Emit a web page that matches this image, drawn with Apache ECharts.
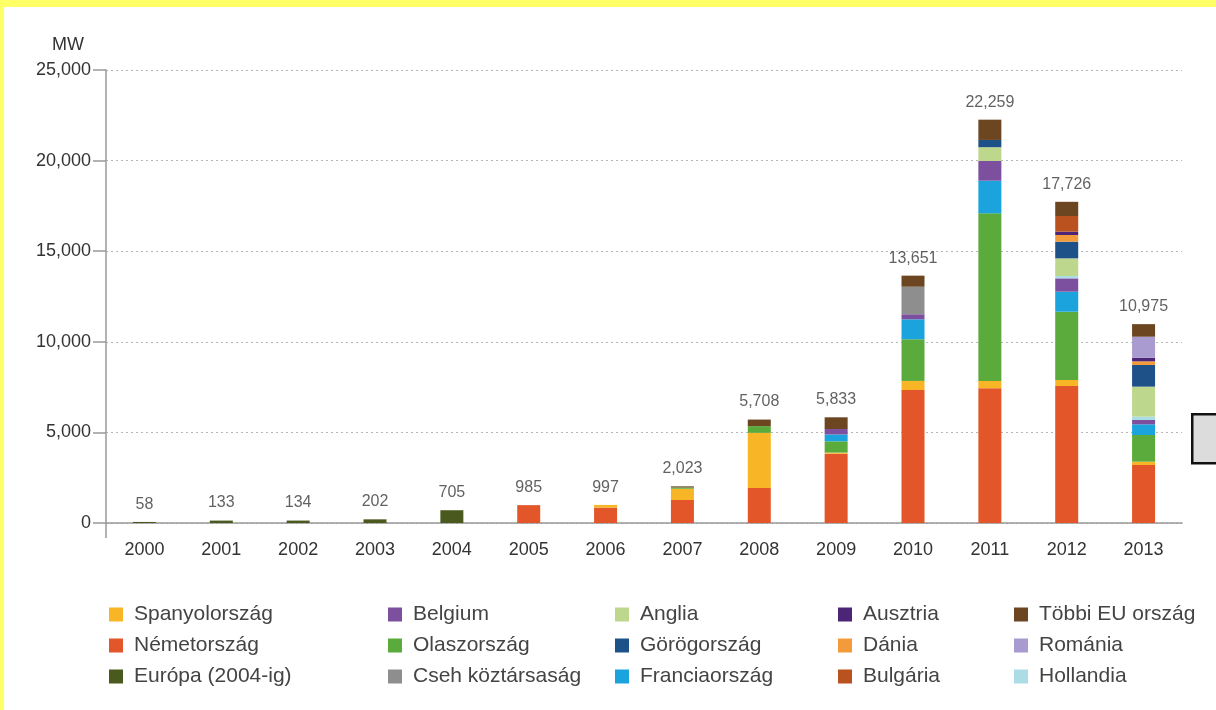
<!DOCTYPE html>
<html>
<head>
<meta charset="utf-8">
<script src="https://cdn.jsdelivr.net/npm/echarts@6/dist/echarts.min.js"></script>
<style>
  html, body { margin: 0; padding: 0; background: #ffffff; }
  #chart { position: absolute; left: 0; top: 0; width: 1216px; height: 710px; background: #ffffff; }
  .frame-top { position: absolute; left: 0; top: 0; width: 1216px; height: 7px; background: #ffff66; z-index: 5; }
  .frame-left { position: absolute; left: 0; top: 0; width: 4px; height: 710px; background: #ffff66; z-index: 5; }
</style>
</head>
<body>
<div id="chart"></div>
<div class="frame-top"></div>
<div class="frame-left"></div>
<script>
// Years on the category axis
const years = ['2000','2001','2002','2003','2004','2005','2006','2007','2008','2009','2010','2011','2012','2013'];

// Newly installed capacity per country (MW), in stacking order from the bottom
const nemetorszag    = [0, 0, 0, 0, 0, 985, 850, 1270, 1935, 3826, 7340, 7440, 7560, 3200];
const spanyolorszag  = [0, 0, 0, 0, 0, 0, 147, 620, 3040, 60, 500, 400, 331, 184];
const olaszorszag    = [0, 0, 0, 0, 0, 0, 0, 70, 370, 620, 2300, 9250, 3770, 1472];
const franciaorszag  = [0, 0, 0, 0, 0, 0, 0, 0, 0, 380, 1100, 1800, 1104, 589];
const belgium        = [0, 0, 0, 0, 0, 0, 0, 0, 0, 300, 280, 1090, 736, 240];
const hollandia      = [0, 0, 0, 0, 0, 0, 0, 0, 0, 0, 0, 0, 130, 184];
const cseh           = [0, 0, 0, 0, 0, 0, 0, 0, 0, 0, 1520, 0, 0, 0];
const anglia         = [0, 0, 0, 0, 0, 0, 0, 0, 0, 0, 0, 760, 974, 1656];
const gorogorszag    = [0, 0, 0, 0, 0, 0, 0, 0, 0, 0, 0, 400, 920, 1196];
const dania          = [0, 0, 0, 0, 0, 0, 0, 0, 0, 0, 0, 0, 368, 200];
const ausztria       = [0, 0, 0, 0, 0, 0, 0, 0, 0, 0, 0, 0, 184, 200];
const bulgaria       = [0, 0, 0, 0, 0, 0, 0, 0, 0, 0, 0, 0, 865, 0];
const romania        = [0, 0, 0, 0, 0, 0, 0, 0, 0, 0, 0, 0, 0, 1160];
const tobbiEU        = [0, 0, 0, 0, 0, 0, 0, 63, 363, 647, 611, 1119, 784, 694];
const europa         = [58, 133, 134, 202, 705, 0, 0, 0, 0, 0, 0, 0, 0, 0];

// Y-axis range
const yMin = 0, yMax = 25000, yStep = 5000;

const stackSeries = [
  { name: 'Németország',        data: nemetorszag,   color: '#e2562a' },
  { name: 'Spanyolország',      data: spanyolorszag, color: '#f8b526' },
  { name: 'Olaszország',        data: olaszorszag,   color: '#5aab3c' },
  { name: 'Franciaország',      data: franciaorszag, color: '#1aa3dc' },
  { name: 'Belgium',            data: belgium,       color: '#7d4f9f' },
  { name: 'Hollandia',          data: hollandia,     color: '#acdce6' },
  { name: 'Cseh köztársaság',   data: cseh,          color: '#8e8e8e' },
  { name: 'Anglia',             data: anglia,        color: '#bdd78c' },
  { name: 'Görögország',        data: gorogorszag,   color: '#1f5189' },
  { name: 'Dánia',              data: dania,         color: '#f39b3a' },
  { name: 'Ausztria',           data: ausztria,      color: '#4d2577' },
  { name: 'Bulgária',           data: bulgaria,      color: '#b9521f' },
  { name: 'Románia',            data: romania,       color: '#a99bd0' },
  { name: 'Többi EU ország',    data: tobbiEU,       color: '#6c4521' },
  { name: 'Európa (2004-ig)',   data: europa,        color: '#4a5a1f' }
];

// Yearly totals shown above each column
const totals = years.map((_, i) => stackSeries.reduce((s, ser) => s + ser.data[i], 0));

// Legend layout: five columns of three entries
const legendColumns = [
  ['Spanyolország', 'Németország', 'Európa (2004-ig)'],
  ['Belgium', 'Olaszország', 'Cseh köztársaság'],
  ['Anglia', 'Görögország', 'Franciaország'],
  ['Ausztria', 'Dánia', 'Bulgária'],
  ['Többi EU ország', 'Románia', 'Hollandia']
];
const legendLeft = [109, 388, 615, 838, 1014];

const axisGray = '#999';
const chart = echarts.init(document.getElementById('chart'), null, { renderer: 'canvas' });

const series = stackSeries.map(s => ({
  name: s.name,
  type: 'bar',
  stack: 'cap',
  barWidth: 23,
  itemStyle: { color: s.color },
  emphasis: { disabled: true },
  data: s.data
}));

series.push({
  name: 'Összesen',
  type: 'scatter',
  symbol: 'rect',
  symbolSize: [1, 1],
  itemStyle: { color: 'rgba(0,0,0,0)' },
  silent: true,
  z: 10,
  label: {
    show: true,
    position: 'top',
    distance: 9,
    fontFamily: 'Liberation Sans',
    fontSize: 16,
    color: '#3a3a3a',
    formatter: p => p.value.toLocaleString('en-US')
  },
  data: totals
});

const legends = legendColumns.map((col, i) => ({
  orient: 'vertical',
  left: legendLeft[i],
  top: 604,
  padding: 0,
  itemWidth: 14,
  itemHeight: 14,
  itemGap: 10,
  icon: 'rect',
  selectedMode: false,
  textStyle: {
    fontFamily: 'Liberation Sans',
    fontSize: 21,
    lineHeight: 21,
    color: '#444',
    padding: [0, 0, 0, 6]
  },
  data: col
}));

chart.setOption({
  animation: false,
  backgroundColor: '#ffffff',
  grid: { left: 106, right: 34, top: 70, bottom: 187 },
  legend: legends,
  xAxis: {
    type: 'category',
    data: years,
    boundaryGap: true,
    axisLine: { show: true, lineStyle: { color: axisGray, width: 1.5 } },
    axisTick: { show: false },
    axisLabel: {
      margin: 18,
      fontFamily: 'Liberation Sans',
      fontSize: 18,
      color: '#333'
    }
  },
  yAxis: {
    type: 'value',
    min: yMin,
    max: yMax,
    interval: yStep,
    name: 'MW',
    nameLocation: 'end',
    nameGap: 25,
    nameTextStyle: {
      fontFamily: 'Liberation Sans',
      fontSize: 18,
      color: '#333',
      align: 'right',
      verticalAlign: 'middle',
      padding: [0, 22, 0, 0]
    },
    axisLine: { show: true, lineStyle: { color: axisGray, width: 1.5 } },
    axisTick: { show: true, length: 13, lineStyle: { color: axisGray, width: 1.5 } },
    axisLabel: {
      margin: 15,
      fontFamily: 'Liberation Sans',
      fontSize: 18,
      color: '#333',
      formatter: v => v.toLocaleString('en-US')
    },
    splitLine: { show: true, lineStyle: { color: '#b5b5b5', type: [2, 3], width: 1 } }
  },
  series: series
});

// The y-axis line runs a little below the origin, and a grey note box sits at the right edge
const c0 = chart.convertToPixel({ gridIndex: 0 }, [0, 0]);
const c1 = chart.convertToPixel({ gridIndex: 0 }, [1, 0]);
const axisX = c0[0] - (c1[0] - c0[0]) / 2;
chart.setOption({
  graphic: [
    {
      type: 'line',
      shape: { x1: axisX, y1: c0[1], x2: axisX, y2: c0[1] + 15 },
      style: { stroke: axisGray, lineWidth: 1.5 },
      silent: true
    },
    {
      type: 'rect',
      left: 1191,
      top: 413,
      shape: { width: 40, height: 49 },
      style: { fill: '#dcdcdc', stroke: '#111', lineWidth: 2.5 },
      silent: true
    }
  ]
});
</script>
</body>
</html>
